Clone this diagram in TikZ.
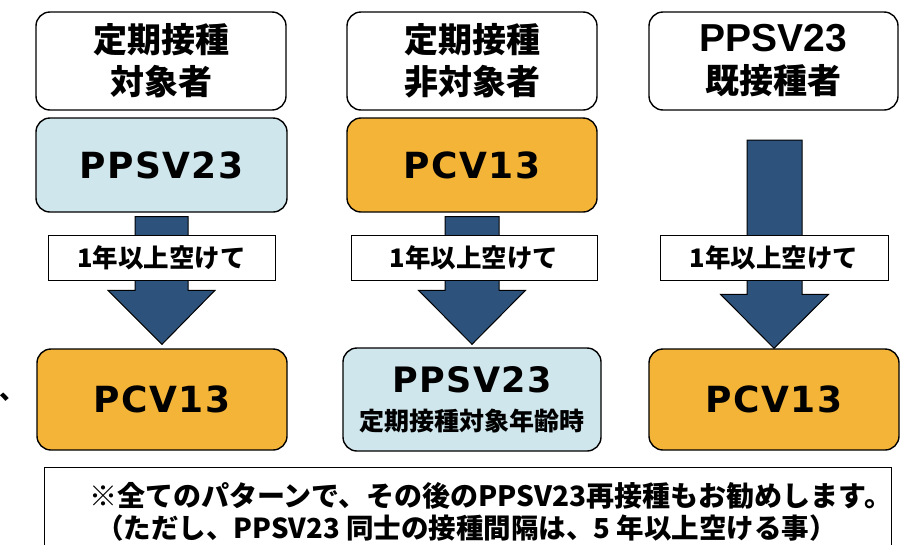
\documentclass[tikz,border=0pt]{standalone}
\usepackage{fontspec}
\setmainfont{Noto Sans CJK JP}
\newfontfamily\jp{Noto Sans CJK JP}
\newfontfamily\latb{DejaVu Sans}[LetterSpace=4]
\newfontfamily\latr{Liberation Sans}
\usetikzlibrary{calc}
\definecolor{lblue}{RGB}{207,230,237}
\definecolor{orng}{RGB}{244,180,55}
\definecolor{navy}{RGB}{45,82,124}
\tikzset{
  box/.style={draw=black, line width=1.4pt, rounded corners=14pt, inner sep=0pt, align=center, text=black, minimum width=250pt},
  topbox/.style={box, fill=white, minimum height=98pt, font=\jp\bfseries\fontsize{34}{42}\selectfont},
  midbox/.style={box, minimum height=94pt, font=\latb\bfseries\fontsize{36}{40}\selectfont},
  botbox/.style={box, minimum height=101pt, font=\latb\bfseries\fontsize{36}{40}\selectfont},
  lbox/.style={draw=black, line width=1pt, fill=white, minimum height=45pt, inner sep=0pt, font=\jp\bfseries\fontsize{25.5}{30}\selectfont},
  barrow/.style={draw=black, line width=1pt, fill=navy},
  notetext/.style={inner sep=0pt, anchor=west, font=\jp\bfseries\fontsize{28}{32}\selectfont}
}
\newcommand\blockarrow[4]{% start, tip, shaft half width, head half width
  \draw[barrow] let \p1=(#1), \p2=(#2) in
    (\x1-#3,\y1) -- (\x1+#3,\y1) -- (\x1+#3,\y2+54pt) -- (\x1+#4,\y2+54pt)
    -- (\x2,\y2) -- (\x1-#4,\y2+54pt) -- (\x1-#3,\y2+54pt) -- cycle;}
\begin{document}
\begin{tikzpicture}[x=1pt,y=-1pt]
\useasboundingbox (0,0) rectangle (909,544);
\clip (0,0) rectangle (909,544);
% top row
\node[topbox] (t1) at (161,61) {定期接種\\対象者};
\node[topbox] (t2) at (472,61) {定期接種\\非対象者};
\node[topbox, minimum width=249pt] (t3) at (773.5,61) {{\latr\bfseries\fontsize{39}{42}\selectfont PPSV23}\\既接種者};
% middle row
\node[midbox, fill=lblue, minimum width=251pt] (m1) at (161.5,165) {PPSV23};
\node[midbox, fill=orng] (m2) at (472,165) {PCV13};
\coordinate (m3) at (774.5,140);
% bottom row
\node[botbox, fill=orng] (b1) at (162,399.5) {PCV13};
\node[botbox, fill=lblue, minimum width=258pt, minimum height=103pt] (b2) at (472,399.5)
  {{\fontsize{35}{38}\selectfont PPSV23}\\[-2pt]{\jp\bfseries\fontsize{25}{28}\selectfont 定期接種対象年齢時}};
\node[botbox, fill=orng] (b3) at (774,399.5) {PCV13};
% arrows
\coordinate (s1) at ($(m1.south)+(0,4)$);
\coordinate (e1) at ($(b1.north)+(0,-4)$);
\coordinate (s2) at ($(m2.south)+(0,4)$);
\coordinate (e2) at ($(b2.north)+(0,-3)$);
\coordinate (e3) at (b3.north);
\blockarrow{s1}{e1}{26.5pt}{53.5pt}
\blockarrow{s2}{e2}{27pt}{53.5pt}
\blockarrow{m3}{e3}{27.5pt}{54pt}
% interval labels
\node[lbox, minimum width=227pt] (l1) at (161.5,257.5) {1年以上空けて};
\node[lbox, minimum width=246pt] (l2) at (474,257.5) {1年以上空けて};
\node[lbox, minimum width=228pt] (l3) at (774,257.5) {1年以上空けて};
% note
\node[draw=black, line width=1.2pt, fill=white, minimum width=847pt, minimum height=100pt, inner sep=0pt, anchor=north west] (note) at (44,467) {};
\node[notetext] (n1) at (89,496) {※全てのパターンで、その後のPPSV23再接種もお勧めします。};
\node[notetext, font=\jp\bfseries\fontsize{27.5}{32}\selectfont] (n2) at (96,528) {（ただし、PPSV23 同士の接種間隔は、5 年以上空ける事）};
% stray mark
\node[inner sep=0pt, anchor=base west, font=\jp\bfseries\fontsize{26}{26}\selectfont] (cm) at (-1,399) {、};
\end{tikzpicture}
\end{document}
